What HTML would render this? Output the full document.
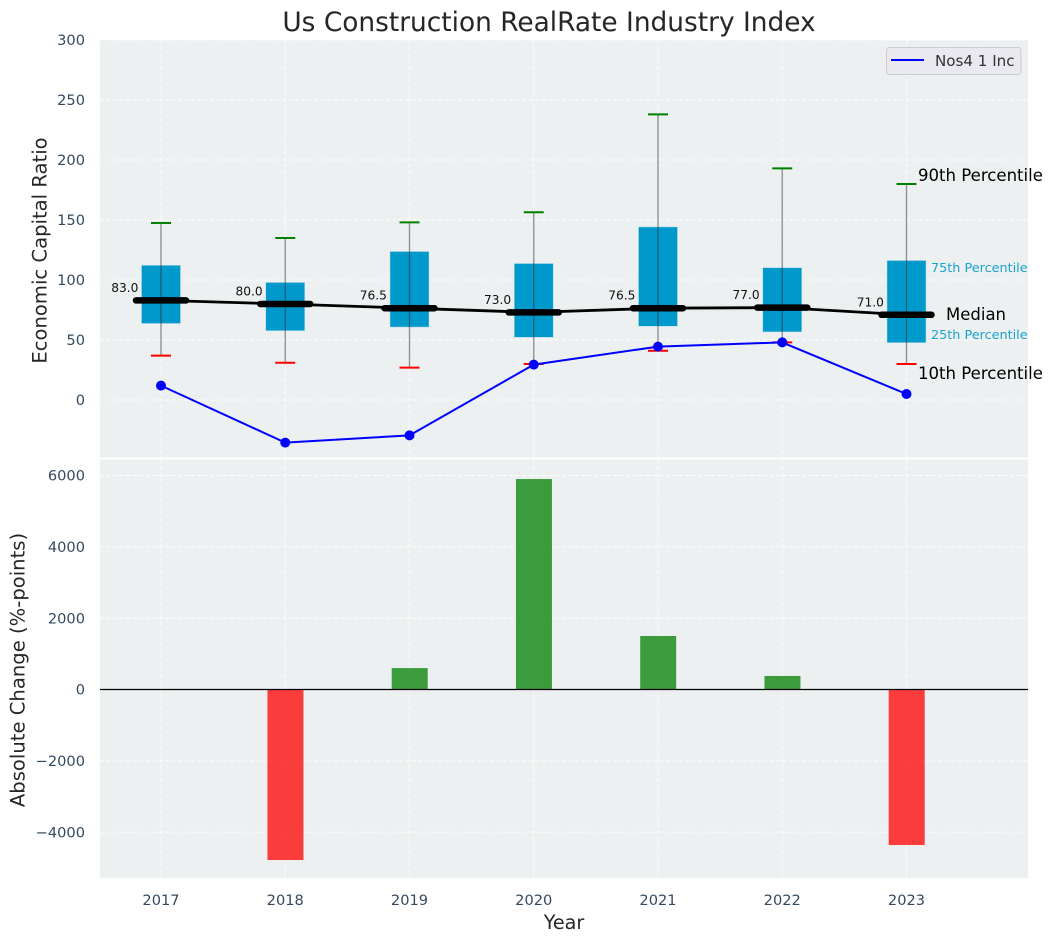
<!DOCTYPE html>
<html>
<head>
<meta charset="utf-8">
<title>Us Construction RealRate Industry Index</title>
<style>
html,body{margin:0;padding:0;background:#fff;width:1053px;height:942px;overflow:hidden}
svg{display:block;font-family:"DejaVu Sans","Liberation Sans",sans-serif}
</style>
</head>
<body>
<svg id="chart" xmlns="http://www.w3.org/2000/svg" width="1053" height="942" viewBox="0 0 1053 942">
  <rect width="1053" height="942" fill="#ffffff"/>
  <rect x="100" y="40" width="928" height="417.5" fill="#ecf0f1"/>
  <rect x="100" y="459.5" width="928" height="418.5" fill="#ecf0f1"/>
  <text x="549" y="31" font-size="26.4" fill="#262626" text-anchor="middle">Us Construction RealRate Industry Index</text>
  <text transform="translate(46.5,250.5) rotate(-90)" font-size="19.6" fill="#262626" text-anchor="middle">Economic Capital Ratio</text>
  <text transform="translate(24.5,670) rotate(-90)" font-size="19.6" fill="#262626" text-anchor="middle">Absolute Change (%-points)</text>
  <text x="564" y="929" font-size="19.2" fill="#262626" text-anchor="middle">Year</text>
  <g id="grid"></g>
  <g id="ticks"></g>
  <g id="marks"></g>
  <g>
    <text x="918" y="181" font-size="16.56" fill="#000">90th Percentile</text>
    <text x="931" y="272" font-size="12.8" fill="#1ba3cf">75th Percentile</text>
    <text x="946" y="320" font-size="16.5" fill="#000">Median</text>
    <text x="931" y="339" font-size="12.8" fill="#1ba3cf">25th Percentile</text>
    <text x="918" y="379" font-size="16.56" fill="#000">10th Percentile</text>
  </g>
  <g>
    <rect x="886.5" y="47.5" width="134.5" height="27" rx="3" fill="#e9e9ef" stroke="#cccccc" stroke-width="1"/>
    <line x1="891" x2="924" y1="60" y2="60" stroke="#0000ff" stroke-width="2"/>
    <text x="935" y="66" font-size="15.1" fill="#333333">Nos4 1 Inc</text>
  </g>
</svg>
<script>
const years = [2017, 2018, 2019, 2020, 2021, 2022, 2023];
const p90 = [147.5, 135, 148, 156.5, 238, 193, 180];
const q3 = [112, 97.7, 123.5, 113.5, 144, 110, 116];
const medians = [83, 80, 76.5, 73, 76.5, 77, 71];
const q1 = [64, 58, 61, 52.5, 61.7, 57, 48];
const p10 = [37, 31, 27, 30, 41, 48, 30];
const companyLine = [12, -35.5, -29.5, 29.5, 44.5, 48, 5];
const absChange = [0, -4780, 600, 5900, 1500, 380, -4360];
const topTicks = [0, 50, 100, 150, 200, 250, 300];
const bottomTicks = [-4000, -2000, 0, 2000, 4000, 6000];

const NS = 'http://www.w3.org/2000/svg';
const gridG = document.getElementById('grid');
const ticksG = document.getElementById('ticks');
const marksG = document.getElementById('marks');

function x(year) { return 161 + (year - 2017) * 124.25; }
function yTop(v) { return 400 - v * 1.2; }
function yBottom(v) { return 689.5 - v * 0.03567; }

function make(parent, tag, attrs, text) {
  const el = document.createElementNS(NS, tag);
  for (const k in attrs) el.setAttribute(k, attrs[k]);
  if (text !== undefined) el.textContent = text;
  parent.appendChild(el);
  return el;
}
const dash = { stroke: '#ffffff', 'stroke-width': 1, 'stroke-dasharray': '4 2.5', 'stroke-opacity': 0.85 };

topTicks.forEach(function (t) {
  const g = make(gridG, 'line', Object.assign({ x1: 100, x2: 1028, y1: yTop(t), y2: yTop(t) }, dash));
  
  
  const l = make(ticksG, 'text', { x: 85, y: yTop(t) + 5.2, 'font-size': 14.6, fill: '#34495e', 'text-anchor': 'end' }, String(t));
  
  
});
bottomTicks.forEach(function (t) {
  const g = make(gridG, 'line', Object.assign({ x1: 100, x2: 1028, y1: yBottom(t), y2: yBottom(t) }, dash));
  
  
  const l = make(ticksG, 'text', { x: 85, y: yBottom(t) + 5.2, 'font-size': 14.6, fill: '#34495e', 'text-anchor': 'end' }, String(t).replace('-', '\u2212'));
  
  
});
years.forEach(function (yr) {
  const g1 = make(gridG, 'line', Object.assign({ x1: x(yr), x2: x(yr), y1: 40, y2: 457.5 }, dash));
  
  
  const g2 = make(gridG, 'line', Object.assign({ x1: x(yr), x2: x(yr), y1: 459.5, y2: 878 }, dash));
  
  
  const l = make(ticksG, 'text', { x: x(yr), y: 905, 'font-size': 14.6, fill: '#34495e', 'text-anchor': 'middle' }, String(yr));
  
  
});

years.forEach(function (yr, i) {
  const box = make(marksG, 'rect', { x: x(yr) - 19.2, width: 38.4, y: yTop(q3[i]), height: yTop(q1[i]) - yTop(q3[i]), fill: '#0099cc', stroke: '#0099cc', 'stroke-opacity': 0.3, 'stroke-width': 1 });
  
  
  const whisker = make(marksG, 'line', { x1: x(yr), x2: x(yr), y1: yTop(p90[i]), y2: yTop(p10[i]), stroke: '#222222', 'stroke-opacity': 0.5, 'stroke-width': 1.3 });
  
  
  const capHigh = make(marksG, 'line', { x1: x(yr) - 10, x2: x(yr) + 10, y1: yTop(p90[i]), y2: yTop(p90[i]), stroke: '#008000', 'stroke-width': 2 });
  
  
  const capLow = make(marksG, 'line', { x1: x(yr) - 10, x2: x(yr) + 10, y1: yTop(p10[i]), y2: yTop(p10[i]), stroke: '#ff0000', 'stroke-width': 2 });
  
  
});

const medianPath = make(marksG, 'polyline', { points: years.map(function (yr, i) { return x(yr) + ',' + yTop(medians[i]); }).join(' '), fill: 'none', stroke: '#000000', 'stroke-width': 2.8 });



years.forEach(function (yr, i) {
  const bar = make(marksG, 'line', { x1: x(yr) - 25, x2: x(yr) + 25, y1: yTop(medians[i]), y2: yTop(medians[i]), stroke: '#000000', 'stroke-width': 6.5, 'stroke-linecap': 'round' });
  
  
  const label = make(marksG, 'text', { x: x(yr) - 22.6, y: yTop(medians[i]) - 8.5, 'font-size': 12.2, fill: '#111111', 'text-anchor': 'end' }, medians[i].toFixed(1));
  
  
});

const linePath = make(marksG, 'polyline', { points: years.map(function (yr, i) { return x(yr) + ',' + yTop(companyLine[i]); }).join(' '), fill: 'none', stroke: '#0000ff', 'stroke-width': 2 });


years.forEach(function (yr, i) {
  const dot = make(marksG, 'circle', { cx: x(yr), cy: yTop(companyLine[i]), r: 5, fill: '#0000ff' });
  
  
});

years.forEach(function (yr, i) {
  const v = absChange[i];
  if (v === 0) return;
  const top = Math.min(yBottom(v), yBottom(0));
  const bar = make(marksG, 'rect', { x: x(yr) - 17.8, width: 36, y: top, height: Math.abs(yBottom(v) - yBottom(0)), fill: v > 0 ? '#008000' : '#ff0000', 'fill-opacity': 0.75 });
  
  
});
const zero = make(marksG, 'line', { x1: 100, x2: 1028, y1: yBottom(0), y2: yBottom(0), stroke: '#000000', 'stroke-width': 1.3 });


</script>
</body>
</html>
